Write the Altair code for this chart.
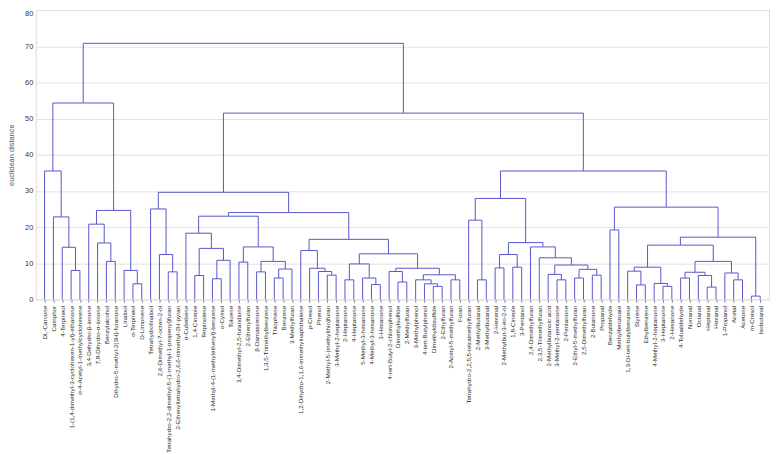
import json
import altair as alt
import pandas as pd

# Leaf labels (left to right)
labels = [
    "DL-Carvone", "Camphor", "4-Terpineol",
    "1-(1,4-dimethyl-3-cyclohexen-1-yl)-ethanone",
    "α-4-Acetyl-1-methylcyclohexene", "3,4-Dehydro-β-ionone",
    "7,8-Dihydro-α-ionone", "Benzylalcohol",
    "Dihydro-5-methyl-2(3H)-furanone", "Linalool", "α-Terpineol",
    "D-Limonene", "Tetrahydrolinalool", "2,6-Dimethyl-7-octen-2-ol",
    "Tetrahydro-2,2-dimethyl-5-(1-methyl-1-propenyl)furan",
    "2-Ethenyltetrahydro-2,6,6-trimethyl-2H-pyran", "α-Cubebene",
    "1,4-Cineole", "Terpinolene", "1-Methyl-4-(1-methylethenyl)-benzene",
    "o-Cymol", "Toluene", "3,4-Dimethyl-2,5-furandione", "2-Ethenylfuran",
    "β-Damascenone", "1,3,5-Trimethylbenzene", "Thiophene", "Benzene",
    "3-Methylfuran", "1,2-Dihydro-1,1,6-trimethylnaphthalene", "p-Cresol",
    "Phenol", "2-Methyl-5-(methylthio)furan", "3-Methyl-2-heptanone",
    "2-Heptanone", "4-Heptanone", "5-Methyl-3-hexanone",
    "4-Methyl-3-hexanone", "3-Hexanone", "4-tert-Butyl-2-chlorophenol",
    "Dimethylsulfide", "2-Methylfuran", "3-Methylphenol",
    "4-tert-Butylphenol", "Dimethyldisulfide", "2-Ethylfuran",
    "2-Acetyl-5-methylfuran", "Furan",
    "Tetrahydro-2,2,5,5-tetramethylfuran", "2-Methylbutanal",
    "3-Methylbutanal", "2-Hexenal", "2-Methylbut-3-en-2-ol", "1,8-Cineole",
    "3-Pentanol", "2,4-Dimethylfuran", "2,3,5-Trimethylfuran",
    "2-Methylbutanoic acid", "3-Methyl-2-pentanone", "2-Pentanone",
    "2-Ethyl-5-methylfuran", "2,5-Dimethylfuran", "2-Butanone", "Propanal",
    "Benzaldehyde", "Methylbenzoate", "1,3-Di-tert-butylbenzene", "Styrene",
    "Ethylbenzene", "4-Methyl-2-heptanone", "3-Heptanone", "2-Hexanone",
    "4-Tolualdehyde", "Nonanal", "Octanal", "Heptanal", "Hexanal",
    "1-Propanol", "Acetal", "Acetone", "m-Cresol", "Isobutanal",
]

# Merges: (cluster name, left child, right child, euclidean distance)
# ints = leaf numbers (1-based), strings = earlier clusters
merge_names = ["A", "B", "C", "D", "E", "F", "G", "H", "I", "J", "K",
               "M", "N", "O", "P", "Q", "R", "S", "T", "U", "V", "W", "X",
               "Y", "Z", "AA", "AB", "AC", "AD", "AE", "AF", "AG", "AH",
               "AI", "AJ", "AK", "AL", "AM", "AN", "AO", "AP", "AQ", "AR",
               "AS", "AT", "AU", "AW", "AX", "AY", "AZ", "BA", "BB", "BC",
               "BD", "BE", "BF", "BG", "BH", "BI", "BJ", "BK", "BL", "BM",
               "BN", "BO", "BP", "BQ", "BR", "BS", "BT", "BU", "BV", "BW",
               "BX", "BY", "BZ", "CA", "CB", "CC", "CD", "ROOT"]
merge_left = [4, 3, 2, 1, 8, 7, 6, 11, 10, "G", "D",
              15, 14, 13, 18, 20, "Q", "P", 17, 25, 27, "V", "U",
              23, "Y", "T", 33, 32, 31, 30, 35, 38, 37,
              "AF", 41, 40, 45, 44, 43, 47, "AN", "AK", "AI",
              "AE", "AA", "O", 50, 49, 52, 54, "AY", 59, 58,
              61, 63, "BD", "BC", 57, 56, "BA", "AX", 65, 68,
              67, 71, 70, "BN", 73, 76, 75, "BR", 79, 78,
              "BU", "BQ", 81, "BY", "BL", "BK", "AU", "K"]
merge_right = [5, "A", "B", "C", 9, "E", "F", 12, "H", "I", "J",
               16, "M", "N", 19, 21, 22, "R", "S", 26, 28, 29, "W",
               24, "X", "Z", 34, "AB", "AC", "AD", 36, 39, "AG",
               "AH", 42, "AJ", 46, "AL", "AM", 48, "AO", "AP", "AQ",
               "AR", "AS", "AT", 51, "AW", 53, 55, "AZ", 60, "BB",
               62, 64, "BE", "BF", "BG", "BH", "BI", "BJ", 66, 69,
               "BM", 72, "BO", "BP", 74, 77, "BS", "BT", 80, "BV",
               "BW", "BX", 82, "BZ", "CA", "CB", "CC", "CD"]
merge_height = [8.0, 14.4, 22.8, 35.5, 10.5, 15.6, 20.8, 4.3, 8.0, 24.6, 54.3,
                7.6, 12.4, 25.0, 6.6, 5.7, 10.8, 14.1, 18.3, 7.6, 5.9, 8.4, 10.5,
                10.3, 14.5, 23.0, 6.7, 7.7, 8.6, 13.5, 5.4, 4.1, 5.9,
                9.8, 4.8, 7.7, 3.6, 4.3, 5.4, 5.4, 6.8, 8.6, 12.6,
                16.6, 24.0, 29.6, 5.4, 21.9, 8.7, 8.9, 12.4, 5.4, 6.9,
                5.9, 6.7, 8.3, 9.5, 11.5, 14.5, 15.7, 27.9, 19.2, 4.0,
                7.8, 3.6, 4.4, 8.9, 5.9, 3.4, 6.6, 7.5, 5.4, 7.3,
                10.5, 15.0, 0.9, 17.2, 25.5, 35.5, 51.5, 70.8]

# Build the dendrogram segments from the merge table
pos = {i: i for i in range(1, len(labels) + 1)}
hgt = {i: 0.0 for i in range(1, len(labels) + 1)}
rows = []
for name, a, b, h in zip(merge_names, merge_left, merge_right, merge_height):
    xa, xb = pos[a], pos[b]
    rows.append(dict(x=xa, x2=xb, y=h, y2=h))
    rows.append(dict(x=xa, x2=xa, y=hgt[a], y2=h))
    rows.append(dict(x=xb, x2=xb, y=hgt[b], y2=h))
    pos[name] = (xa + xb) / 2
    hgt[name] = h
segs = pd.DataFrame(rows)

n = len(labels)
label_expr = json.dumps(labels, ensure_ascii=False) + "[datum.value - 1]"

FONT = "Liberation Sans"

chart = alt.Chart(segs).mark_rule(color="#5656cc", strokeWidth=1).encode(
    x=alt.X("x:Q",
            scale=alt.Scale(domain=[0, n + 1], nice=False, zero=False),
            axis=alt.Axis(values=list(range(1, n + 1)), labelExpr=label_expr,
                          labelAngle=-90, labelFontSize=6.3, labelColor="#2a2a2a",
                          labelFont=FONT, labelPadding=3, labelOverlap=False,
                          labelLimit=0, tickSize=3, tickColor="#888",
                          domain=False, grid=False, title=None)),
    x2="x2:Q",
    y=alt.Y("y:Q",
            scale=alt.Scale(domain=[0, 80], nice=False),
            axis=alt.Axis(values=list(range(0, 81, 10)), labelFontSize=7.5,
                          labelColor="#333", labelFont=FONT, labelPadding=3,
                          labelBaseline={"condition": {"test": "datum.value == 80",
                                                       "value": "top"},
                                         "value": "middle"},
                          ticks=False, domain=False, grid=True,
                          gridColor="#e2e2e2", title="euclidean distance",
                          titleFontSize=7.5, titleFontWeight="normal",
                          titleColor="#555", titleFont=FONT, titlePadding=9)),
    y2="y2:Q",
).properties(
    width=740,
    height=292,
    autosize=alt.AutoSizeParams(type="none"),
    padding={"left": 28, "top": 0, "right": 1, "bottom": 155},
).configure_view(stroke="#777", strokeWidth=1).configure(background="white")

chart.save("out.html", embed_options={"renderer": "svg", "actions": False})
